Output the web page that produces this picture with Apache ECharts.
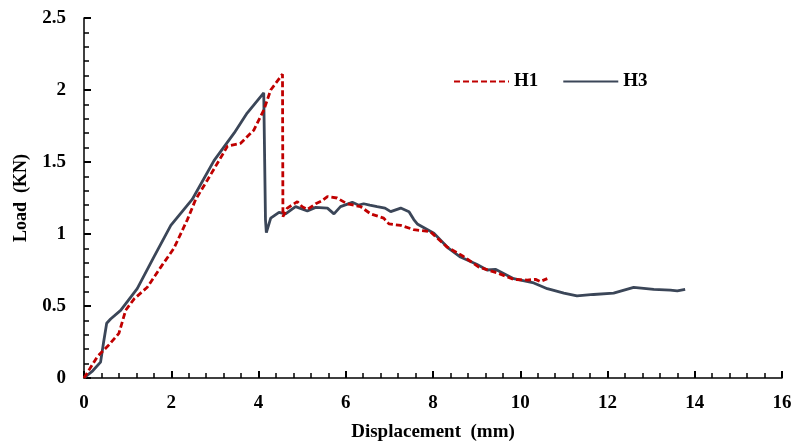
<!DOCTYPE html>
<html>
<head>
<meta charset="utf-8">
<script src="https://cdn.jsdelivr.net/npm/echarts@6/dist/echarts.min.js"></script>
<style>
html,body{margin:0;padding:0;background:#fff;}
#main{width:796px;height:446px;}
</style>
</head>
<body>
<div id="main"></div>
<script>
// H1 曲线 (位移 mm, 荷载 KN)
var h1X = [0, 0.31, 0.54, 0.8, 0.955, 1.15, 1.45, 1.76, 2.06, 2.37, 2.56, 2.83, 3.29, 3.59, 3.89, 4.12, 4.28, 4.55, 4.56, 4.66, 4.89, 5.0, 5.12, 5.31, 5.45, 5.58, 5.8, 6.03, 6.34, 6.57, 6.87, 6.99, 7.26, 7.56, 7.94, 8.32, 8.67, 9.05, 9.47, 9.85, 10.16, 10.35, 10.46, 10.62];
var h1Y = [0, 0.15, 0.22, 0.31, 0.47, 0.55, 0.63, 0.77, 0.90, 1.10, 1.24, 1.375, 1.61, 1.63, 1.72, 1.86, 2.0, 2.11, 1.12, 1.18, 1.225, 1.19, 1.17, 1.21, 1.23, 1.26, 1.25, 1.21, 1.19, 1.14, 1.11, 1.07, 1.06, 1.03, 1.016, 0.91, 0.85, 0.77, 0.73, 0.685, 0.68, 0.685, 0.67, 0.69];
// H3 曲线
var h3X = [0, 0.2, 0.38, 0.45, 0.52, 0.61, 0.84, 1.22, 1.6, 1.99, 2.48, 2.98, 3.44, 3.74, 4.12, 4.16, 4.18, 4.28, 4.47, 4.62, 4.85, 5.12, 5.31, 5.58, 5.73, 5.88, 6.15, 6.3, 6.41, 6.55, 6.72, 6.9, 7.03, 7.26, 7.45, 7.56, 7.64, 8.02, 8.36, 8.63, 9.0, 9.24, 9.43, 9.85, 10.31, 10.62, 11.0, 11.3, 11.68, 12.14, 12.6, 13.06, 13.44, 13.6, 13.78];
var h3Y = [0, 0.05, 0.11, 0.25, 0.38, 0.41, 0.47, 0.62, 0.84, 1.06, 1.24, 1.51, 1.70, 1.84, 1.98, 1.10, 1.01, 1.11, 1.15, 1.14, 1.19, 1.16, 1.185, 1.18, 1.14, 1.19, 1.22, 1.2, 1.21, 1.2, 1.19, 1.18, 1.155, 1.18, 1.155, 1.10, 1.07, 1.005, 0.90, 0.84, 0.79, 0.75, 0.755, 0.69, 0.66, 0.62, 0.59, 0.57, 0.58, 0.59, 0.63, 0.616, 0.61, 0.605, 0.616];

function pairs(xs, ys) {
    var out = [];
    for (var i = 0; i < xs.length; i++) {
        out.push([xs[i], ys[i]]);
    }
    return out;
}

var fontFam = '"Liberation Serif", "Times New Roman", serif';
var myChart = echarts.init(document.getElementById('main'));

var labelStyle = {
    fontFamily: fontFam,
    fontWeight: 'bold',
    fontSize: 19,
    color: '#000'
};

var option = {
    animation: false,
    grid: {
        left: 84,
        right: 14,
        top: 18,
        bottom: 68,
        containLabel: false,
        outerBoundsMode: 'none'
    },
    legend: {
        left: 448,
        top: 67,
        itemWidth: 55,
        itemHeight: 18,
        itemGap: 24,
        itemStyle: { opacity: 0 },
        textStyle: labelStyle,
        data: ['H1', 'H3']
    },
    xAxis: {
        type: 'value',
        min: 0,
        max: 16,
        interval: 2,
        name: 'Displacement  (mm)',
        nameLocation: 'middle',
        nameGap: 45,
        nameTextStyle: labelStyle,
        axisLine: { show: true, lineStyle: { color: '#000', width: 1.5 } },
        axisTick: { show: true, inside: true, length: 7, lineStyle: { color: '#000', width: 2 } },
        minorTick: { show: true, splitNumber: 5, length: 5, lineStyle: { color: '#000', width: 1.5 } },
        axisLabel: { margin: 16, fontFamily: fontFam, fontWeight: 'bold', fontSize: 19, color: '#000' },
        splitLine: { show: false }
    },
    yAxis: {
        type: 'value',
        min: 0,
        max: 2.5,
        interval: 0.5,
        name: 'Load  (KN)',
        nameLocation: 'middle',
        nameGap: 54,
        nameTextStyle: { fontFamily: fontFam, fontWeight: 'bold', fontSize: 18, color: '#000' },
        axisLine: { show: true, lineStyle: { color: '#000', width: 1.5 } },
        axisTick: { show: true, inside: true, length: 7, lineStyle: { color: '#000', width: 2 } },
        minorTick: { show: true, splitNumber: 5, length: 5, lineStyle: { color: '#000', width: 1.5 } },
        axisLabel: { margin: 18, fontFamily: fontFam, fontWeight: 'bold', fontSize: 19, color: '#000' },
        splitLine: { show: false }
    },
    series: [
        {
            name: 'H1',
            type: 'line',
            symbol: 'none',
            data: pairs(h1X, h1Y),
            itemStyle: { color: '#C00000' },
            lineStyle: { color: '#C00000', width: 2.8, type: [6, 3] },
            z: 3
        },
        {
            name: 'H3',
            type: 'line',
            symbol: 'none',
            data: pairs(h3X, h3Y),
            itemStyle: { color: '#3B4658' },
            lineStyle: { color: '#3B4658', width: 2.8 },
            z: 2
        }
    ]
};
myChart.setOption(option);
</script>
</body>
</html>
